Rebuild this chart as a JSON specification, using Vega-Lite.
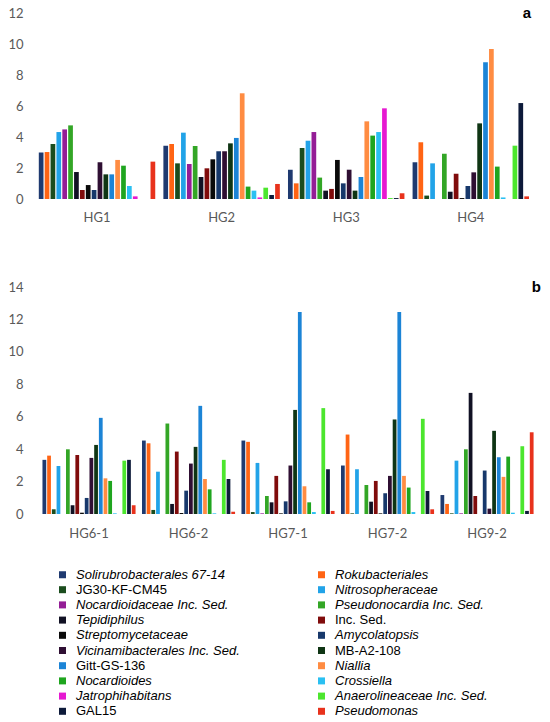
{
  "$schema": "https://vega.github.io/schema/vega-lite/v6.json",
  "padding": {"left": 7, "top": 6, "right": 0, "bottom": 0},
  "spacing": 56,
  "datasets": {
    "a": [
      {"group": "HG1", "taxon": "Solirubrobacterales 67-14", "value": 3.0},
      {"group": "HG1", "taxon": "Rokubacteriales", "value": 3.03},
      {"group": "HG1", "taxon": "JG30-KF-CM45", "value": 3.55},
      {"group": "HG1", "taxon": "Nitrosopheraceae", "value": 4.32},
      {"group": "HG1", "taxon": "Nocardioidaceae Inc. Sed.", "value": 4.49},
      {"group": "HG1", "taxon": "Pseudonocardia Inc. Sed.", "value": 4.75},
      {"group": "HG1", "taxon": "Tepidiphilus", "value": 1.74},
      {"group": "HG1", "taxon": "Inc. Sed.", "value": 0.58},
      {"group": "HG1", "taxon": "Streptomycetaceae", "value": 0.9},
      {"group": "HG1", "taxon": "Amycolatopsis", "value": 0.58},
      {"group": "HG1", "taxon": "Vicinamibacterales Inc. Sed.", "value": 2.37},
      {"group": "HG1", "taxon": "MB-A2-108", "value": 1.59},
      {"group": "HG1", "taxon": "Gitt-GS-136", "value": 1.59},
      {"group": "HG1", "taxon": "Niallia", "value": 2.52},
      {"group": "HG1", "taxon": "Nocardioides", "value": 2.15},
      {"group": "HG1", "taxon": "Crossiella", "value": 0.84},
      {"group": "HG1", "taxon": "Jatrophihabitans", "value": 0.17},
      {"group": "HG1", "taxon": "Anaerolineaceae Inc. Sed.", "value": 0},
      {"group": "HG1", "taxon": "GAL15", "value": 0},
      {"group": "HG1", "taxon": "Pseudomonas", "value": 2.41},
      {"group": "HG2", "taxon": "Solirubrobacterales 67-14", "value": 3.44},
      {"group": "HG2", "taxon": "Rokubacteriales", "value": 3.55},
      {"group": "HG2", "taxon": "JG30-KF-CM45", "value": 2.3},
      {"group": "HG2", "taxon": "Nitrosopheraceae", "value": 4.28},
      {"group": "HG2", "taxon": "Nocardioidaceae Inc. Sed.", "value": 2.26},
      {"group": "HG2", "taxon": "Pseudonocardia Inc. Sed.", "value": 3.42},
      {"group": "HG2", "taxon": "Tepidiphilus", "value": 1.42},
      {"group": "HG2", "taxon": "Inc. Sed.", "value": 1.98},
      {"group": "HG2", "taxon": "Streptomycetaceae", "value": 2.56},
      {"group": "HG2", "taxon": "Amycolatopsis", "value": 3.08},
      {"group": "HG2", "taxon": "Vicinamibacterales Inc. Sed.", "value": 3.08},
      {"group": "HG2", "taxon": "MB-A2-108", "value": 3.59},
      {"group": "HG2", "taxon": "Gitt-GS-136", "value": 3.94},
      {"group": "HG2", "taxon": "Niallia", "value": 6.82},
      {"group": "HG2", "taxon": "Nocardioides", "value": 0.8},
      {"group": "HG2", "taxon": "Crossiella", "value": 0.54},
      {"group": "HG2", "taxon": "Jatrophihabitans", "value": 0.1},
      {"group": "HG2", "taxon": "Anaerolineaceae Inc. Sed.", "value": 0.73},
      {"group": "HG2", "taxon": "GAL15", "value": 0.26},
      {"group": "HG2", "taxon": "Pseudomonas", "value": 0.97},
      {"group": "HG3", "taxon": "Solirubrobacterales 67-14", "value": 1.89},
      {"group": "HG3", "taxon": "Rokubacteriales", "value": 1.01},
      {"group": "HG3", "taxon": "JG30-KF-CM45", "value": 3.29},
      {"group": "HG3", "taxon": "Nitrosopheraceae", "value": 3.76},
      {"group": "HG3", "taxon": "Nocardioidaceae Inc. Sed.", "value": 4.32},
      {"group": "HG3", "taxon": "Pseudonocardia Inc. Sed.", "value": 1.38},
      {"group": "HG3", "taxon": "Tepidiphilus", "value": 0.54},
      {"group": "HG3", "taxon": "Inc. Sed.", "value": 0.65},
      {"group": "HG3", "taxon": "Streptomycetaceae", "value": 2.52},
      {"group": "HG3", "taxon": "Amycolatopsis", "value": 1.01},
      {"group": "HG3", "taxon": "Vicinamibacterales Inc. Sed.", "value": 1.89},
      {"group": "HG3", "taxon": "MB-A2-108", "value": 0.54},
      {"group": "HG3", "taxon": "Gitt-GS-136", "value": 1.42},
      {"group": "HG3", "taxon": "Niallia", "value": 5.01},
      {"group": "HG3", "taxon": "Nocardioides", "value": 4.09},
      {"group": "HG3", "taxon": "Crossiella", "value": 4.32},
      {"group": "HG3", "taxon": "Jatrophihabitans", "value": 5.85},
      {"group": "HG3", "taxon": "Anaerolineaceae Inc. Sed.", "value": 0.06},
      {"group": "HG3", "taxon": "GAL15", "value": 0.06},
      {"group": "HG3", "taxon": "Pseudomonas", "value": 0.37},
      {"group": "HG4", "taxon": "Solirubrobacterales 67-14", "value": 2.37},
      {"group": "HG4", "taxon": "Rokubacteriales", "value": 3.66},
      {"group": "HG4", "taxon": "JG30-KF-CM45", "value": 0.22},
      {"group": "HG4", "taxon": "Nitrosopheraceae", "value": 2.3},
      {"group": "HG4", "taxon": "Nocardioidaceae Inc. Sed.", "value": 0},
      {"group": "HG4", "taxon": "Pseudonocardia Inc. Sed.", "value": 2.92},
      {"group": "HG4", "taxon": "Tepidiphilus", "value": 0.47},
      {"group": "HG4", "taxon": "Inc. Sed.", "value": 1.63},
      {"group": "HG4", "taxon": "Streptomycetaceae", "value": 0.06},
      {"group": "HG4", "taxon": "Amycolatopsis", "value": 0.84},
      {"group": "HG4", "taxon": "Vicinamibacterales Inc. Sed.", "value": 1.72},
      {"group": "HG4", "taxon": "MB-A2-108", "value": 4.88},
      {"group": "HG4", "taxon": "Gitt-GS-136", "value": 8.82},
      {"group": "HG4", "taxon": "Niallia", "value": 9.68},
      {"group": "HG4", "taxon": "Nocardioides", "value": 2.09},
      {"group": "HG4", "taxon": "Crossiella", "value": 0.1},
      {"group": "HG4", "taxon": "Jatrophihabitans", "value": 0},
      {"group": "HG4", "taxon": "Anaerolineaceae Inc. Sed.", "value": 3.44},
      {"group": "HG4", "taxon": "GAL15", "value": 6.19},
      {"group": "HG4", "taxon": "Pseudomonas", "value": 0.17}
    ],
    "b": [
      {"group": "HG6-1", "taxon": "Solirubrobacterales 67-14", "value": 3.34},
      {"group": "HG6-1", "taxon": "Rokubacteriales", "value": 3.6},
      {"group": "HG6-1", "taxon": "JG30-KF-CM45", "value": 0.29},
      {"group": "HG6-1", "taxon": "Nitrosopheraceae", "value": 2.96},
      {"group": "HG6-1", "taxon": "Nocardioidaceae Inc. Sed.", "value": 0},
      {"group": "HG6-1", "taxon": "Pseudonocardia Inc. Sed.", "value": 3.99},
      {"group": "HG6-1", "taxon": "Tepidiphilus", "value": 0.54},
      {"group": "HG6-1", "taxon": "Inc. Sed.", "value": 3.64},
      {"group": "HG6-1", "taxon": "Streptomycetaceae", "value": 0.08},
      {"group": "HG6-1", "taxon": "Amycolatopsis", "value": 0.99},
      {"group": "HG6-1", "taxon": "Vicinamibacterales Inc. Sed.", "value": 3.46},
      {"group": "HG6-1", "taxon": "MB-A2-108", "value": 4.26},
      {"group": "HG6-1", "taxon": "Gitt-GS-136", "value": 5.93},
      {"group": "HG6-1", "taxon": "Niallia", "value": 2.2},
      {"group": "HG6-1", "taxon": "Nocardioides", "value": 2.04},
      {"group": "HG6-1", "taxon": "Crossiella", "value": 0.04},
      {"group": "HG6-1", "taxon": "Jatrophihabitans", "value": 0},
      {"group": "HG6-1", "taxon": "Anaerolineaceae Inc. Sed.", "value": 3.29},
      {"group": "HG6-1", "taxon": "GAL15", "value": 3.34},
      {"group": "HG6-1", "taxon": "Pseudomonas", "value": 0.54},
      {"group": "HG6-2", "taxon": "Solirubrobacterales 67-14", "value": 4.53},
      {"group": "HG6-2", "taxon": "Rokubacteriales", "value": 4.36},
      {"group": "HG6-2", "taxon": "JG30-KF-CM45", "value": 0.25},
      {"group": "HG6-2", "taxon": "Nitrosopheraceae", "value": 2.61},
      {"group": "HG6-2", "taxon": "Nocardioidaceae Inc. Sed.", "value": 0},
      {"group": "HG6-2", "taxon": "Pseudonocardia Inc. Sed.", "value": 5.58},
      {"group": "HG6-2", "taxon": "Tepidiphilus", "value": 0.62},
      {"group": "HG6-2", "taxon": "Inc. Sed.", "value": 3.85},
      {"group": "HG6-2", "taxon": "Streptomycetaceae", "value": 0.06},
      {"group": "HG6-2", "taxon": "Amycolatopsis", "value": 1.44},
      {"group": "HG6-2", "taxon": "Vicinamibacterales Inc. Sed.", "value": 3.11},
      {"group": "HG6-2", "taxon": "MB-A2-108", "value": 4.14},
      {"group": "HG6-2", "taxon": "Gitt-GS-136", "value": 6.67},
      {"group": "HG6-2", "taxon": "Niallia", "value": 2.16},
      {"group": "HG6-2", "taxon": "Nocardioides", "value": 1.52},
      {"group": "HG6-2", "taxon": "Crossiella", "value": 0.04},
      {"group": "HG6-2", "taxon": "Jatrophihabitans", "value": 0},
      {"group": "HG6-2", "taxon": "Anaerolineaceae Inc. Sed.", "value": 3.34},
      {"group": "HG6-2", "taxon": "GAL15", "value": 2.16},
      {"group": "HG6-2", "taxon": "Pseudomonas", "value": 0.14},
      {"group": "HG7-1", "taxon": "Solirubrobacterales 67-14", "value": 4.53},
      {"group": "HG7-1", "taxon": "Rokubacteriales", "value": 4.45},
      {"group": "HG7-1", "taxon": "JG30-KF-CM45", "value": 0.12},
      {"group": "HG7-1", "taxon": "Nitrosopheraceae", "value": 3.15},
      {"group": "HG7-1", "taxon": "Nocardioidaceae Inc. Sed.", "value": 0.04},
      {"group": "HG7-1", "taxon": "Pseudonocardia Inc. Sed.", "value": 1.11},
      {"group": "HG7-1", "taxon": "Tepidiphilus", "value": 0.72},
      {"group": "HG7-1", "taxon": "Inc. Sed.", "value": 2.35},
      {"group": "HG7-1", "taxon": "Streptomycetaceae", "value": 0.04},
      {"group": "HG7-1", "taxon": "Amycolatopsis", "value": 0.78},
      {"group": "HG7-1", "taxon": "Vicinamibacterales Inc. Sed.", "value": 2.99},
      {"group": "HG7-1", "taxon": "MB-A2-108", "value": 6.42},
      {"group": "HG7-1", "taxon": "Gitt-GS-136", "value": 12.46},
      {"group": "HG7-1", "taxon": "Niallia", "value": 1.71},
      {"group": "HG7-1", "taxon": "Nocardioides", "value": 0.72},
      {"group": "HG7-1", "taxon": "Crossiella", "value": 0.12},
      {"group": "HG7-1", "taxon": "Jatrophihabitans", "value": 0},
      {"group": "HG7-1", "taxon": "Anaerolineaceae Inc. Sed.", "value": 6.53},
      {"group": "HG7-1", "taxon": "GAL15", "value": 2.76},
      {"group": "HG7-1", "taxon": "Pseudomonas", "value": 0.19},
      {"group": "HG7-2", "taxon": "Solirubrobacterales 67-14", "value": 2.99},
      {"group": "HG7-2", "taxon": "Rokubacteriales", "value": 4.9},
      {"group": "HG7-2", "taxon": "JG30-KF-CM45", "value": 0.04},
      {"group": "HG7-2", "taxon": "Nitrosopheraceae", "value": 2.76},
      {"group": "HG7-2", "taxon": "Nocardioidaceae Inc. Sed.", "value": 0},
      {"group": "HG7-2", "taxon": "Pseudonocardia Inc. Sed.", "value": 1.79},
      {"group": "HG7-2", "taxon": "Tepidiphilus", "value": 0.76},
      {"group": "HG7-2", "taxon": "Inc. Sed.", "value": 2.04},
      {"group": "HG7-2", "taxon": "Streptomycetaceae", "value": 0.04},
      {"group": "HG7-2", "taxon": "Amycolatopsis", "value": 1.28},
      {"group": "HG7-2", "taxon": "Vicinamibacterales Inc. Sed.", "value": 2.35},
      {"group": "HG7-2", "taxon": "MB-A2-108", "value": 5.83},
      {"group": "HG7-2", "taxon": "Gitt-GS-136", "value": 12.46},
      {"group": "HG7-2", "taxon": "Niallia", "value": 2.35},
      {"group": "HG7-2", "taxon": "Nocardioides", "value": 1.63},
      {"group": "HG7-2", "taxon": "Crossiella", "value": 0.12},
      {"group": "HG7-2", "taxon": "Jatrophihabitans", "value": 0},
      {"group": "HG7-2", "taxon": "Anaerolineaceae Inc. Sed.", "value": 5.87},
      {"group": "HG7-2", "taxon": "GAL15", "value": 1.42},
      {"group": "HG7-2", "taxon": "Pseudomonas", "value": 0.29},
      {"group": "HG9-2", "taxon": "Solirubrobacterales 67-14", "value": 1.17},
      {"group": "HG9-2", "taxon": "Rokubacteriales", "value": 0.62},
      {"group": "HG9-2", "taxon": "JG30-KF-CM45", "value": 0.04},
      {"group": "HG9-2", "taxon": "Nitrosopheraceae", "value": 3.29},
      {"group": "HG9-2", "taxon": "Nocardioidaceae Inc. Sed.", "value": 0.04},
      {"group": "HG9-2", "taxon": "Pseudonocardia Inc. Sed.", "value": 3.99},
      {"group": "HG9-2", "taxon": "Tepidiphilus", "value": 7.47},
      {"group": "HG9-2", "taxon": "Inc. Sed.", "value": 1.11},
      {"group": "HG9-2", "taxon": "Streptomycetaceae", "value": 0},
      {"group": "HG9-2", "taxon": "Amycolatopsis", "value": 2.68},
      {"group": "HG9-2", "taxon": "Vicinamibacterales Inc. Sed.", "value": 0.33},
      {"group": "HG9-2", "taxon": "MB-A2-108", "value": 5.13},
      {"group": "HG9-2", "taxon": "Gitt-GS-136", "value": 3.5},
      {"group": "HG9-2", "taxon": "Niallia", "value": 2.29},
      {"group": "HG9-2", "taxon": "Nocardioides", "value": 3.54},
      {"group": "HG9-2", "taxon": "Crossiella", "value": 0.08},
      {"group": "HG9-2", "taxon": "Jatrophihabitans", "value": 0},
      {"group": "HG9-2", "taxon": "Anaerolineaceae Inc. Sed.", "value": 4.18},
      {"group": "HG9-2", "taxon": "GAL15", "value": 0.19},
      {"group": "HG9-2", "taxon": "Pseudomonas", "value": 5.04}
    ]
  },
  "vconcat": [
    {
      "width": 501,
      "height": 186,
      "data": {"name": "a"},
      "title": {"text": "a", "anchor": "end", "frame": "group", "baseline": "middle", "offset": 0, "dx": -6, "dy": 21, "fontSize": 15, "fontWeight": "bold", "font": "Liberation Sans", "color": "#000000"},
      "mark": {"type": "bar"},
      "encoding": {
        "x": {
          "field": "group", "type": "nominal", "title": null,
          "scale": {"paddingInner": 0.056, "paddingOuter": 0.0385, "align": 0.23},
          "axis": {"labelAngle": 0, "labelPadding": 12}
        },
        "xOffset": {
          "field": "taxon", "type": "nominal",
          "scale": {"paddingInner": 0.2, "paddingOuter": 0.1, "domain": ["Solirubrobacterales 67-14", "Rokubacteriales", "JG30-KF-CM45", "Nitrosopheraceae", "Nocardioidaceae Inc. Sed.", "Pseudonocardia Inc. Sed.", "Tepidiphilus", "Inc. Sed.", "Streptomycetaceae", "Amycolatopsis", "Vicinamibacterales Inc. Sed.", "MB-A2-108", "Gitt-GS-136", "Niallia", "Nocardioides", "Crossiella", "Jatrophihabitans", "Anaerolineaceae Inc. Sed.", "GAL15", "Pseudomonas"]}
        },
        "y": {
          "field": "value", "type": "quantitative", "title": null,
          "scale": {"domain": [0, 12], "nice": false},
          "axis": {"values": [0, 2, 4, 6, 8, 10, 12]}
        },
        "color": {
          "field": "taxon", "type": "nominal",
          "scale": {
            "domain": ["Solirubrobacterales 67-14", "JG30-KF-CM45", "Nocardioidaceae Inc. Sed.", "Tepidiphilus", "Streptomycetaceae", "Vicinamibacterales Inc. Sed.", "Gitt-GS-136", "Nocardioides", "Jatrophihabitans", "GAL15", "Rokubacteriales", "Nitrosopheraceae", "Pseudonocardia Inc. Sed.", "Inc. Sed.", "Amycolatopsis", "MB-A2-108", "Niallia", "Crossiella", "Anaerolineaceae Inc. Sed.", "Pseudomonas"],
            "range": ["#1F3A70", "#1B4D1E", "#941D96", "#111124", "#0A0A0A", "#2F0F33", "#1C84D6", "#1FA51F", "#E619D1", "#0D1A3A", "#FF6414", "#22A3E8", "#33A626", "#800C0C", "#17386B", "#0F3514", "#FF8C42", "#2AC0F2", "#4CE62E", "#E8321C"]
          },
          "legend": {
            "labelFontStyle": {"expr": "indexof(['JG30-KF-CM45', 'Gitt-GS-136', 'GAL15', 'Inc. Sed.', 'MB-A2-108'], datum.label) >= 0 ? 'normal' : 'italic'"}
          }
        }
      }
    },
    {
      "width": 501,
      "height": 227,
      "data": {"name": "b"},
      "title": {"text": "b", "anchor": "end", "frame": "group", "baseline": "middle", "offset": 0, "dx": 4, "dy": 21, "fontSize": 15, "fontWeight": "bold", "font": "Liberation Sans", "color": "#000000"},
      "mark": {"type": "bar"},
      "encoding": {
        "x": {
          "field": "group", "type": "nominal", "title": null,
          "scale": {"paddingInner": 0.055, "paddingOuter": 0.045, "align": 0.67},
          "axis": {"labelAngle": 0, "labelPadding": 13}
        },
        "xOffset": {
          "field": "taxon", "type": "nominal",
          "scale": {"paddingInner": 0.2, "paddingOuter": 0.1, "domain": ["Solirubrobacterales 67-14", "Rokubacteriales", "JG30-KF-CM45", "Nitrosopheraceae", "Nocardioidaceae Inc. Sed.", "Pseudonocardia Inc. Sed.", "Tepidiphilus", "Inc. Sed.", "Streptomycetaceae", "Amycolatopsis", "Vicinamibacterales Inc. Sed.", "MB-A2-108", "Gitt-GS-136", "Niallia", "Nocardioides", "Crossiella", "Jatrophihabitans", "Anaerolineaceae Inc. Sed.", "GAL15", "Pseudomonas"]}
        },
        "y": {
          "field": "value", "type": "quantitative", "title": null,
          "scale": {"domain": [0, 14], "nice": false},
          "axis": {"values": [0, 2, 4, 6, 8, 10, 12, 14]}
        },
        "color": {
          "field": "taxon", "type": "nominal",
          "scale": {
            "domain": ["Solirubrobacterales 67-14", "JG30-KF-CM45", "Nocardioidaceae Inc. Sed.", "Tepidiphilus", "Streptomycetaceae", "Vicinamibacterales Inc. Sed.", "Gitt-GS-136", "Nocardioides", "Jatrophihabitans", "GAL15", "Rokubacteriales", "Nitrosopheraceae", "Pseudonocardia Inc. Sed.", "Inc. Sed.", "Amycolatopsis", "MB-A2-108", "Niallia", "Crossiella", "Anaerolineaceae Inc. Sed.", "Pseudomonas"],
            "range": ["#1F3A70", "#1B4D1E", "#941D96", "#111124", "#0A0A0A", "#2F0F33", "#1C84D6", "#1FA51F", "#E619D1", "#0D1A3A", "#FF6414", "#22A3E8", "#33A626", "#800C0C", "#17386B", "#0F3514", "#FF8C42", "#2AC0F2", "#4CE62E", "#E8321C"]
          },
          "legend": {
            "labelFontStyle": {"expr": "indexof(['JG30-KF-CM45', 'Gitt-GS-136', 'GAL15', 'Inc. Sed.', 'MB-A2-108'], datum.label) >= 0 ? 'normal' : 'italic'"}
          }
        }
      }
    }
  ],
  "resolve": {"scale": {"x": "independent", "y": "independent", "xOffset": "independent"}},
  "config": {
    "view": {"stroke": null},
    "axis": {
      "domain": false, "ticks": false, "grid": false,
      "labelFont": "Lato", "labelFontSize": 13, "labelColor": "#595959"
    },
    "axisY": {"labelPadding": 13},
    "legend": {
      "orient": "none", "legendX": 20, "legendY": 555,
      "title": null, "columns": 2, "columnPadding": 75, "rowPadding": 1.2,
      "symbolType": "square", "symbolSize": 49, "symbolStrokeWidth": 0, "symbolOpacity": 1,
      "labelFont": "Liberation Sans", "labelFontSize": 13, "labelColor": "#000000",
      "labelOffset": 7, "labelLimit": 300, "symbolLimit": 0
    }
  }
}
